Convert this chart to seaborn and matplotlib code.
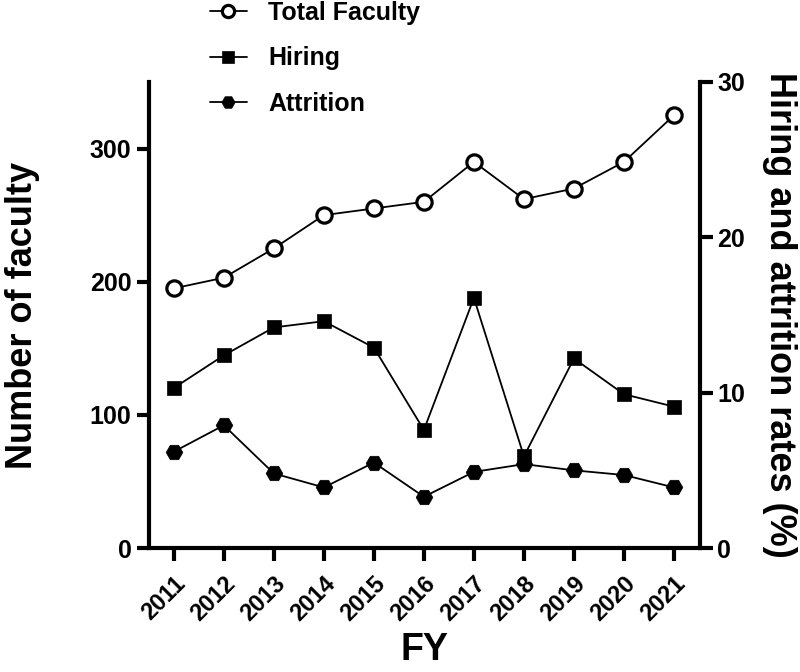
"""
Faculty headcount with hiring and attrition rates, FY2011-FY2021
"""

import matplotlib
matplotlib.use("Agg")
import matplotlib.pyplot as plt
import seaborn as sns

years = [2011, 2012, 2013, 2014, 2015, 2016, 2017, 2018, 2019, 2020, 2021]
total_faculty = [195, 203, 225, 250, 255, 260, 290, 262, 270, 290, 325]
hiring = [10.3, 12.4, 14.2, 14.6, 12.9, 7.6, 16.1, 5.9, 12.2, 9.9, 9.1]
attrition = [6.2, 7.9, 4.8, 3.9, 5.5, 3.3, 4.9, 5.4, 5.0, 4.7, 3.9]

sns.set_style("ticks")
plt.rcParams["font.family"] = ["Liberation Sans", "DejaVu Sans"]
plt.rcParams["font.weight"] = "bold"
plt.rcParams["axes.labelweight"] = "bold"
for key in ["text.color", "axes.labelcolor", "xtick.color", "ytick.color",
            "axes.edgecolor"]:
    plt.rcParams[key] = "black"

fig = plt.figure(figsize=(8, 6.72), dpi=100)
ax = fig.add_axes([0.186, 0.1845, 0.689, 0.6935])
ax2 = ax.twinx()

line_kw = dict(color="black", linewidth=1.3, markeredgecolor="black")

sns.lineplot(x=years, y=total_faculty, ax=ax, marker="o", markersize=11,
             markerfacecolor="white", markeredgewidth=2.3,
             label="Total Faculty", legend=False, **line_kw)
sns.lineplot(x=years, y=hiring, ax=ax2, marker="s", markersize=10,
             markerfacecolor="black", markeredgewidth=0.5,
             label="Hiring", legend=False, **line_kw)
sns.lineplot(x=years, y=attrition, ax=ax2, marker="H", markersize=12,
             markerfacecolor="black", markeredgewidth=0.5,
             label="Attrition", legend=False, **line_kw)

ax.set_xlim(2010.5, 2021.52)
ax.set_ylim(0, 350)
ax2.set_ylim(0, 30)
ax.set_xticks(years)
ax.set_xticklabels([str(y) for y in years], rotation=45, ha="right",
                   rotation_mode="anchor", fontsize=17, fontweight="bold")
ax.set_yticks([0, 100, 200, 300])
ax2.set_yticks([0, 10, 20, 30])

for a in (ax, ax2):
    a.spines["top"].set_visible(False)
    for s in a.spines.values():
        s.set_linewidth(3)
    a.tick_params(width=3, length=9, labelsize=18, colors="black")
    for lab in a.get_yticklabels():
        lab.set_fontweight("bold")
ax.tick_params(axis="x", labelsize=17, pad=8)
ax.spines["right"].set_visible(False)
ax2.spines["left"].set_visible(False)
ax2.spines["bottom"].set_visible(False)

ax.set_xlabel("FY", fontsize=27, fontweight="bold", labelpad=5)
ax.set_ylabel("Number of faculty", fontsize=26, fontweight="bold", labelpad=36)
ax2.set_ylabel("Hiring and attrition rates (%)", fontsize=26,
               fontweight="bold", rotation=270, labelpad=37)

handles = ax.get_lines()[:1] + ax2.get_lines()[:2]
fig.legend(handles, ["Total Faculty", "Hiring", "Attrition"],
           loc="center left", bbox_to_anchor=(0.262, 0.913), frameon=False,
           borderpad=0, borderaxespad=0, handlelength=1.5, handletextpad=0.85,
           labelspacing=0.85, markerscale=0.8,
           prop={"size": 18, "weight": "bold"})

plt.savefig("out.png", dpi=100)
